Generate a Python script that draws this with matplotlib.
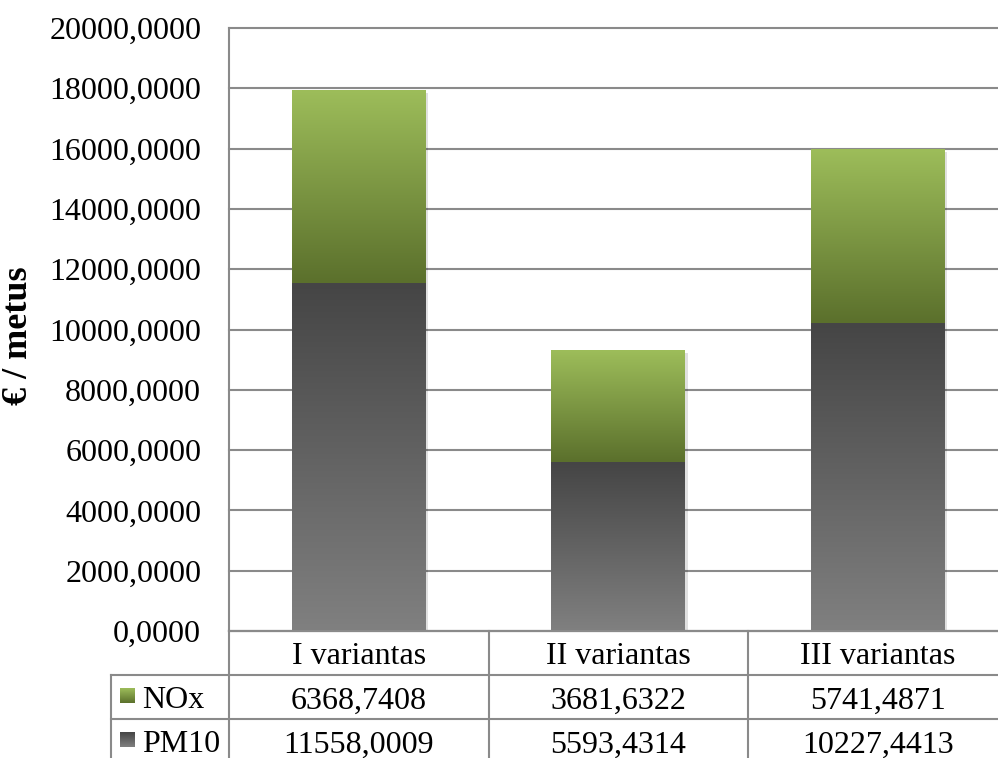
import matplotlib.pyplot as plt
import numpy as np
from matplotlib import patheffects as pe
from matplotlib.colors import LinearSegmentedColormap
from matplotlib.lines import Line2D

categories = ['I variantas', 'II variantas', 'III variantas']
series_names = ['NOx', 'PM10']
nox = [6368.7408, 3681.6322, 5741.4871]
pm10 = [11558.0009, 5593.4314, 10227.4413]
y_ticks = [0, 2000, 4000, 6000, 8000, 10000, 12000, 14000, 16000, 18000, 20000]

plt.rcParams['font.family'] = ['Liberation Serif', 'DejaVu Serif']

W, H = 998, 758
GRID = '#8a8a8a'
FS = 23
NOX_TOP, NOX_BOT = '#9dbd5a', '#5b702c'
PM_TOP, PM_BOT = '#454545', '#808080'


def px_box(x0, y0, x1, y1):
    return [x0 / W, 1 - y1 / H, (x1 - x0) / W, (y1 - y0) / H]


def fmt(v):
    return f'{v:.4f}'.replace('.', ',')


def gradient(ax, extent, top, bottom, zorder=3, clip=True):
    cmap = LinearSegmentedColormap.from_list('g', [bottom, top])
    g = np.linspace(0, 1, 256).reshape(-1, 1)
    im = ax.imshow(g, extent=extent, origin='lower', cmap=cmap,
                   aspect='auto', zorder=zorder, interpolation='bicubic')
    im.set_clip_on(clip)
    return im


fig = plt.figure(figsize=(W / 100, H / 100), dpi=100)
ax = fig.add_axes(px_box(229, 28, 1007.5, 631))
tab = fig.add_axes(px_box(229, 631, 1007.5, 763))

x = np.arange(len(categories))
width = 0.515
shadow = [pe.SimplePatchShadow(offset=(2, -1.5), shadow_rgbFace='k', alpha=0.12), pe.Normal()]

bars_pm = ax.bar(x, pm10, width, color='white', zorder=2, path_effects=shadow)
bars_nox = ax.bar(x, nox, width, bottom=pm10, color='white', zorder=2, path_effects=shadow)

for r in bars_pm:
    gradient(ax, (r.get_x(), r.get_x() + r.get_width(), r.get_y(), r.get_y() + r.get_height()),
             PM_TOP, PM_BOT)
for r in bars_nox:
    gradient(ax, (r.get_x(), r.get_x() + r.get_width(), r.get_y(), r.get_y() + r.get_height()),
             NOX_TOP, NOX_BOT)

ax.set_xlim(-0.5, len(categories) - 0.5)
ax.set_ylim(0, 20000)
ax.set_yticks(y_ticks)
ax.set_yticklabels([fmt(v) for v in y_ticks])
ax.set_xticks([])
ax.tick_params(axis='y', length=0, pad=20, labelsize=FS)
ax.yaxis.grid(True, color=GRID, linewidth=1.5)
for gl in ax.get_ygridlines():
    gl.set_clip_on(False)
ax.set_axisbelow(True)
for side in ('top', 'right'):
    ax.spines[side].set_visible(False)
for side in ('left', 'bottom'):
    ax.spines[side].set_color(GRID)
    ax.spines[side].set_linewidth(1.5)

ax.set_ylabel('€ / metus', fontsize=26, fontweight='bold')
ax.yaxis.set_label_coords(-0.249, 0.489)

# data table under the bars
tab.set_xlim(-0.5, len(categories) - 0.5)
tab.set_ylim(3, 0)
tab.axis('off')
col_px = 259.5
x_left = -0.5 - (229 - 111) / col_px
kw = dict(color=GRID, linewidth=1.5, clip_on=False)
tab.add_line(Line2D([-0.5, 2.5], [0, 0], **kw))
for row in (1, 2):
    tab.add_line(Line2D([x_left, 2.5], [row, row], **kw))
for xv in (-0.5, 0.5, 1.5):
    tab.add_line(Line2D([xv, xv], [0, 3], **kw))
tab.add_line(Line2D([x_left, x_left], [1, 3], **kw))

base = 0.76
for i, c in enumerate(categories):
    tab.text(i, base, c, ha='center', va='baseline', fontsize=FS)

rows = [(series_names[0], nox, NOX_TOP, NOX_BOT), (series_names[1], pm10, PM_TOP, PM_BOT)]
sw_w = 15 / col_px
sw_h = 15 / 44
sw_x = x_left + (120 - 111) / col_px
for k, (name, vals, top, bot) in enumerate(rows):
    yb = 1 + k + base
    yc = yb - 0.3
    gradient(tab, (sw_x, sw_x + sw_w, yc + sw_h / 2, yc - sw_h / 2), top, bot, clip=False)
    tab.text(x_left + (142 - 111) / col_px, yb, name, ha='left', va='baseline', fontsize=FS)
    for i, v in enumerate(vals):
        tab.text(i, yb, fmt(v), ha='center', va='baseline', fontsize=FS)

fig.savefig('out.png', dpi=100)
